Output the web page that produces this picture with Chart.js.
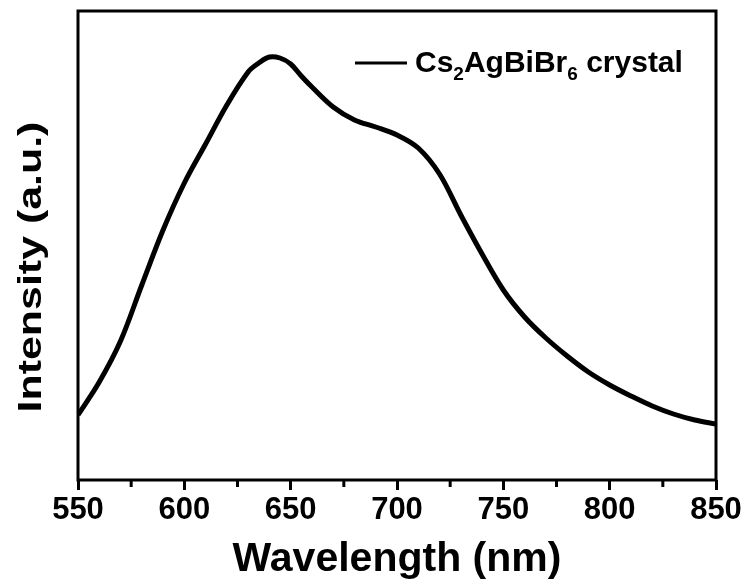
<!DOCTYPE html>
<html>
<head>
<meta charset="utf-8">
<title>PL spectrum</title>
<script src="https://cdn.jsdelivr.net/npm/chart.js@4"></script>
<style>
    html, body { margin: 0; padding: 0; background: #fff; }
    #wrap { width: 748px; height: 584px; }
</style>
</head>
<body>
<div id="wrap"><canvas id="plChart"></canvas></div>
<script>
// Photoluminescence spectrum data (wavelength in nm, intensity in a.u.)
const wavelengths = [550, 560, 570, 580, 590, 600, 610, 620, 630, 635, 640, 645, 650, 655, 660, 670, 680, 690, 700, 710, 720, 730, 740, 750, 760, 770, 780, 790, 800, 810, 820, 830, 840, 850];
const intensity = [65, 98, 139, 195, 250, 297, 336, 375, 408, 417, 423, 422, 416, 404, 393, 373, 360, 353, 345, 332, 306, 265, 226, 190, 163, 142, 124, 108, 95, 84, 74, 66, 60, 56];
const xTicks = [550, 600, 650, 700, 750, 800, 850];
const minorTicks = [575, 625, 675, 725, 775, 825];

// legend label pieces: [text, isSubscript]
const legendParts = [["Cs", false], ["2", true], ["AgBiBr", false], ["6", true], [" crystal", false]];
const yTitle = "Intensity (a.u.)";
const xTitle = "Wavelength (nm)";

const FONT = "'Liberation Sans', Arial, sans-serif";

// frame, minor ticks, y title and legend
const decorPlugin = {
    id: "decor",
    afterDraw(chart) {
        const { ctx, chartArea } = chart;
        const xs = chart.scales.x;
        ctx.save();
        ctx.strokeStyle = "#000";
        ctx.lineWidth = 3;
        ctx.strokeRect(chartArea.left, chartArea.top, chartArea.right - chartArea.left, chartArea.bottom - chartArea.top);

        // minor ticks
        minorTicks.forEach(v => {
            const px = xs.getPixelForValue(v);
            ctx.beginPath();
            ctx.moveTo(px, chartArea.bottom);
            ctx.lineTo(px, chartArea.bottom + 7);
            ctx.stroke();
        });

        // y axis title, stretched along its length
        ctx.fillStyle = "#000";
        ctx.font = "bold 33px " + FONT;
        ctx.translate(32, 267);
        ctx.rotate(-Math.PI / 2);
        ctx.scale(1.3, 1);
        ctx.textAlign = "center";
        ctx.textBaseline = "middle";
        ctx.fillText(yTitle, 0, 0);
        ctx.restore();

        // legend
        ctx.save();
        const ds = chart.data.datasets[0];
        ctx.strokeStyle = ds.borderColor;
        ctx.lineWidth = 3;
        ctx.beginPath();
        ctx.moveTo(355, 63);
        ctx.lineTo(407, 63);
        ctx.stroke();
        ctx.fillStyle = "#000";
        ctx.textBaseline = "alphabetic";
        ctx.textAlign = "left";
        let x = 415;
        legendParts.forEach(([txt, sub]) => {
            ctx.font = sub ? "bold 19px " + FONT : "bold 30px " + FONT;
            ctx.fillText(txt, x, sub ? 80 : 72);
            x += ctx.measureText(txt).width;
        });
        ctx.restore();
    }
};

new Chart(document.getElementById("plChart"), {
    type: "line",
    data: {
        datasets: [{
            label: "Cs2AgBiBr6 crystal",
            data: wavelengths.map((w, i) => ({ x: w, y: intensity[i] })),
            borderColor: "#000",
            borderWidth: 5,
            pointRadius: 0,
            tension: 0.35,
            fill: false
        }]
    },
    options: {
        responsive: true,
        maintainAspectRatio: false,
        animation: false,
        layout: { padding: { top: 11, right: 32, left: 0, bottom: 0 } },
        plugins: {
            legend: { display: false },
            tooltip: { enabled: false }
        },
        scales: {
            x: {
                type: "linear",
                min: 550,
                max: 850,
                afterBuildTicks: s => { s.ticks = xTicks.map(v => ({ value: v })); },
                afterFit: s => { s.height = 104; },
                ticks: {
                    color: "#000",
                    padding: 2,
                    maxRotation: 0,
                    font: { family: FONT, size: 31, weight: "bold" }
                },
                grid: {
                    drawOnChartArea: false,
                    tickLength: 10,
                    tickWidth: 3,
                    color: "#000"
                },
                border: { display: false },
                title: {
                    display: true,
                    text: xTitle,
                    color: "#000",
                    padding: { top: 0, bottom: 0 },
                    font: { family: FONT, size: 41, weight: "bold" }
                }
            },
            y: {
                min: 0,
                max: 469,
                afterFit: s => { s.width = 78; },
                ticks: { display: false },
                grid: { display: false },
                border: { display: false }
            }
        }
    },
    plugins: [decorPlugin]
});
</script>
</body>
</html>
